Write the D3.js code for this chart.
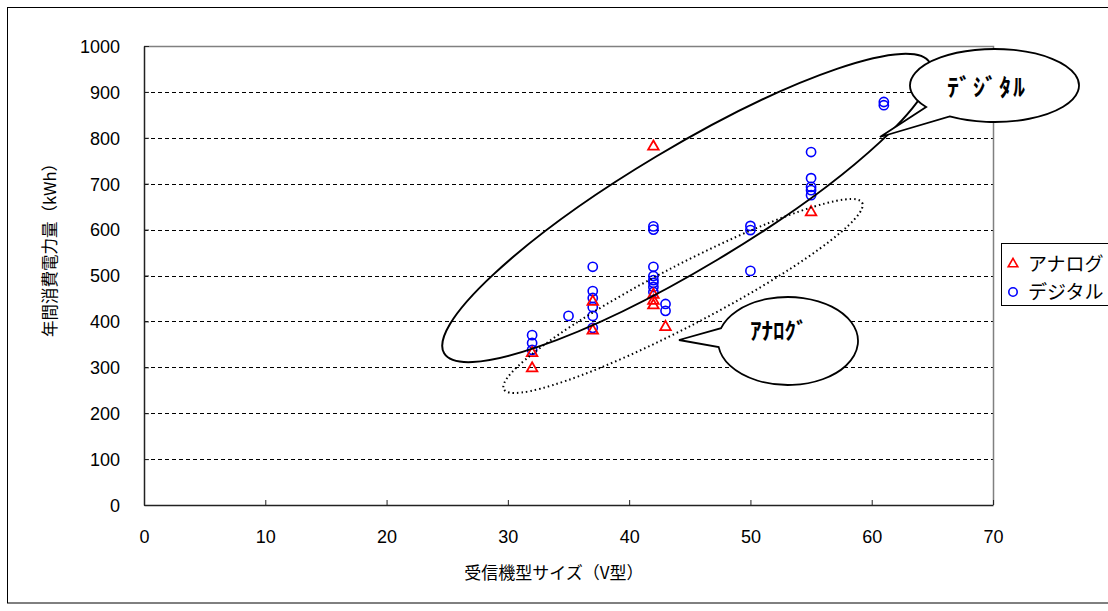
<!DOCTYPE html>
<html lang="ja">
<head>
<meta charset="UTF-8">
<title>受信機型サイズと年間消費電力量</title>
<style>
  body { margin: 0; background: #fff; }
  text { font-family: "Liberation Sans", "Noto Sans CJK JP", sans-serif; }
  .jp { font-family: "Noto Sans CJK JP", sans-serif; }
</style>
</head>
<body>
<div id="chart"></div>
<script src="https://cdn.jsdelivr.net/npm/d3@7"></script>
<script>
// data
var analogSize  = [32, 32, 37, 37, 42, 42, 42, 42, 43, 55];
var analogKwh   = [300, 333, 382, 445, 437, 447, 460, 783, 390, 640];
var digitalSize = [32, 32, 32, 35, 37, 37, 37, 37, 37, 37, 42, 42, 42, 42, 42, 42, 42, 42, 43, 43, 50, 50, 50, 55, 55, 55, 55, 55, 61, 61];
var digitalKwh  = [370, 353, 338, 412, 519, 466, 451, 431, 412, 386, 607, 600, 519, 499, 490, 484, 475, 464, 438, 423, 608, 599, 510, 769, 712, 693, 686, 675, 878, 871];
var xTicks = [0, 10, 20, 30, 40, 50, 60, 70];
var yTicks = [0, 100, 200, 300, 400, 500, 600, 700, 800, 900, 1000];
var seriesNames = ["アナログ", "デジタル"];
var xTitle = "受信機型サイズ（V型）";
var yTitle = "年間消費電力量（kWh）";

var W = 1108, H = 611;
var plot = {left: 144, right: 993, top: 46, bottom: 505};

var svg = d3.select("#chart").append("svg")
    .attr("width", W)
    .attr("height", H);

// outer chart frame
svg.append("rect")
    .attr("x", 7.5).attr("y", 7.5)
    .attr("width", 1120).attr("height", 595.5)
    .attr("fill", "none").attr("stroke", "#000");

var x = d3.scaleLinear().domain([0, 70]).range([plot.left, plot.right]);
var y = d3.scaleLinear().domain([0, 1000]).range([plot.bottom, plot.top]);

// dashed gridlines
svg.append("g").selectAll("line")
  .data(yTicks.filter(function(d) { return d > 0 && d < 1000; }))
  .enter().append("line")
    .attr("x1", plot.left).attr("x2", plot.right)
    .attr("y1", function(d) { return Math.round(y(d)) + 0.5; })
    .attr("y2", function(d) { return Math.round(y(d)) + 0.5; })
    .attr("stroke", "#000")
    .attr("stroke-dasharray", "4,3");

// top / right border of plot area
svg.append("path")
    .attr("d", "M" + plot.left + "," + (plot.top + 0.5) + "H" + (plot.right + 0.5) + "V" + plot.bottom)
    .attr("fill", "none").attr("stroke", "#808080").attr("stroke-width", 1.5);

// axes
var xAxis = svg.append("g")
    .attr("transform", "translate(0," + plot.bottom + ")")
    .call(d3.axisBottom(x).tickValues(xTicks).tickFormat(d3.format("d"))
      .tickSize(-5).tickPadding(25).tickSizeOuter(0));
var yAxis = svg.append("g")
    .attr("transform", "translate(" + plot.left + ",0)")
    .call(d3.axisLeft(y).tickValues(yTicks).tickFormat(d3.format("d"))
      .tickSize(-5).tickPadding(24).tickSizeOuter(0));
[xAxis, yAxis].forEach(function(a) {
  a.select(".domain").attr("stroke", "#222").attr("stroke-width", 1.5);
  a.selectAll(".tick line").attr("stroke", "#222");
  a.selectAll(".tick text").attr("font-size", 18).attr("fill", "#000")
    .style("font-family", "'Liberation Sans', sans-serif");
});
yAxis.selectAll(".tick text").attr("dy", "0.35em");

// axis titles
svg.append("text").attr("class", "jp")
    .attr("x", 554).attr("y", 579)
    .attr("text-anchor", "middle")
    .attr("font-size", 17)
    .text(xTitle);
svg.append("text").attr("class", "jp")
    .attr("transform", "translate(56,246) rotate(-90)")
    .attr("text-anchor", "middle")
    .attr("font-size", 16.5)
    .text(yTitle);

// markers
var tri = d3.symbol().type(d3.symbolTriangle).size(48);
svg.append("g").selectAll("circle")
  .data(digitalSize.map(function(s, i) { return [s, digitalKwh[i]]; }))
  .enter().append("circle")
    .attr("cx", function(d) { return x(d[0]); })
    .attr("cy", function(d) { return y(d[1]); })
    .attr("r", 4.6)
    .attr("fill", "none").attr("stroke", "#0000ff").attr("stroke-width", 1.6);
svg.append("g").selectAll("path")
  .data(analogSize.map(function(s, i) { return [s, analogKwh[i]]; }))
  .enter().append("path")
    .attr("d", tri)
    .attr("transform", function(d) { return "translate(" + x(d[0]) + "," + (y(d[1]) + 1) + ")"; })
    .attr("fill", "none").attr("stroke", "#ff0000").attr("stroke-width", 1.8);

// grouping ellipses
svg.append("ellipse")
    .attr("cx", 0).attr("cy", 0).attr("rx", 283).attr("ry", 60)
    .attr("transform", "translate(687,208) rotate(-30.9)")
    .attr("fill", "none").attr("stroke", "#000").attr("stroke-width", 2);
svg.append("ellipse")
    .attr("cx", 0).attr("cy", 0).attr("rx", 202).attr("ry", 30)
    .attr("transform", "translate(683,296) rotate(-27.5)")
    .attr("fill", "none").attr("stroke", "#000").attr("stroke-width", 2)
    .attr("stroke-dasharray", "1.5,3");

// callout bubbles: ellipse with a wedge tail
function callout(cx, cy, rx, ry, t1, t2, tip) {
  var p1 = [cx + rx * Math.cos(t1 * Math.PI / 180), cy + ry * Math.sin(t1 * Math.PI / 180)];
  var p2 = [cx + rx * Math.cos(t2 * Math.PI / 180), cy + ry * Math.sin(t2 * Math.PI / 180)];
  svg.append("path")
      .attr("d", "M" + p1 + "A" + rx + "," + ry + " 0 1 1 " + p2 + "L" + tip + "Z")
      .attr("fill", "#fff").attr("stroke", "#000").attr("stroke-width", 1.8)
      .attr("stroke-linejoin", "miter");
}
callout(994.5, 85.5, 84.5, 36.5, 144, 122, [880, 137]);
callout(788, 341, 70, 44, 197, 172, [679, 340]);

svg.append("text").attr("class", "jp")
    .attr("x", 947).attr("y", 96)
    .attr("font-size", 24).attr("font-weight", "bold")
    .attr("textLength", 78).attr("lengthAdjust", "spacing")
    .text("ﾃﾞｼﾞﾀﾙ");
svg.append("text").attr("class", "jp")
    .attr("x", 750).attr("y", 339)
    .attr("font-size", 23).attr("font-weight", "bold")
    .text("ｱﾅﾛｸﾞ");

// legend
var lg = svg.append("g");
lg.append("rect")
    .attr("x", 1001.5).attr("y", 243.5)
    .attr("width", 130).attr("height", 62)
    .attr("fill", "#fff").attr("stroke", "#000");
lg.append("path")
    .attr("d", d3.symbol().type(d3.symbolTriangle).size(40))
    .attr("transform", "translate(1013,264)")
    .attr("fill", "none").attr("stroke", "#ff0000").attr("stroke-width", 1.6);
lg.append("circle")
    .attr("cx", 1013).attr("cy", 292).attr("r", 4.2)
    .attr("fill", "none").attr("stroke", "#0000ff").attr("stroke-width", 1.6);
lg.selectAll("text.lab")
  .data(seriesNames)
  .enter().append("text")
    .attr("class", "jp lab")
    .attr("x", 1028)
    .attr("y", function(d, i) { return 264 + i * 28; })
    .attr("dy", "0.35em")
    .attr("font-size", 19)
    .text(function(d) { return d; });
</script>
</body>
</html>
